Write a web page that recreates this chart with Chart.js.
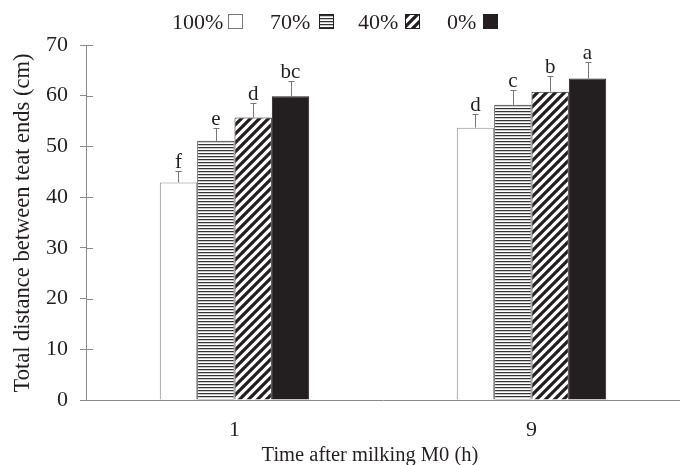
<!DOCTYPE html>
<html><head><meta charset="utf-8">
<script src="https://cdn.jsdelivr.net/npm/chart.js@4/dist/chart.umd.min.js"></script>
<style>html,body{margin:0;padding:0;background:#fff;}#wrap{width:680px;height:465px;}</style>
</head><body><div id="wrap"><canvas id="c" width="680" height="465"></canvas></div>
<script>
const categories = ['1', '9'];
const seriesNames = ['100%', '70%', '40%', '0%'];
const values100 = [42.9, 53.7];
const values70 = [51.1, 58.2];
const values40 = [55.7, 60.8];
const values0 = [59.9, 63.4];
const err100 = [2.3, 2.7];
const err70 = [2.5, 2.9];
const err40 = [2.8, 3.0];
const err0 = [3.0, 3.2];
const letters100 = ['f', 'd'];
const letters70 = ['e', 'c'];
const letters40 = ['d', 'b'];
const letters0 = ['bc', 'a'];
const yTicks = [0, 10, 20, 30, 40, 50, 60, 70];
const yTitle = 'Total distance between teat ends (cm)';
const xTitle = 'Time after milking M0 (h)';

const SERIF = "'Liberation Serif', 'Times New Roman', serif";
const INK = '#231f20';
const AXIS = '#8a8a8a';

function hPattern(ctx) {
  const c = document.createElement('canvas'); c.width = 4; c.height = 3;
  const g = c.getContext('2d');
  g.fillStyle = '#fff'; g.fillRect(0, 0, 4, 3);
  g.fillStyle = '#333'; g.fillRect(0, 0, 4, 1);
  g.fillStyle = '#9a9a9a'; g.fillRect(0, 1, 4, 0.5);
  return ctx.createPattern(c, 'repeat');
}
function dPattern(ctx) {
  const s = 9;
  const c = document.createElement('canvas'); c.width = s; c.height = s;
  const g = c.getContext('2d');
  g.fillStyle = '#fff'; g.fillRect(0, 0, s, s);
  g.strokeStyle = INK; g.lineWidth = 3.2;
  g.beginPath();
  for (let k = -1; k <= 1; k++) {
    g.moveTo(k * s - 1, s + 1); g.lineTo(k * s + s + 1, -1);
  }
  g.stroke();
  return ctx.createPattern(c, 'repeat');
}

const canvas = document.getElementById('c');
const ctx0 = canvas.getContext('2d');
const fills = ['#ffffff', hPattern(ctx0), dPattern(ctx0), INK];
const borders = ['#8a8a8a', '#555', INK, INK];
const valueSets = [values100, values70, values40, values0];
const errSets = [err100, err70, err40, err0];
const letterSets = [letters100, letters70, letters40, letters0];

const decor = {
  id: 'decor',
  afterDatasetsDraw(chart) {
    const ctx = chart.ctx;
    const y = chart.scales.y;
    const area = chart.chartArea;
    ctx.save();
    ctx.strokeStyle = AXIS; ctx.lineWidth = 1;
    yTicks.forEach(v => {
      const py = Math.round(y.getPixelForValue(v)) + 0.5;
      ctx.beginPath(); ctx.moveTo(area.left, py); ctx.lineTo(area.left + 7, py); ctx.stroke();
    });
    ctx.font = '21px ' + SERIF; ctx.fillStyle = INK; ctx.textAlign = 'center'; ctx.textBaseline = 'alphabetic';
    valueSets.forEach((vals, di) => {
      const meta = chart.getDatasetMeta(di);
      meta.data.forEach((bar, i) => {
        const x = Math.round(bar.x) + 0.5;
        const top = y.getPixelForValue(vals[i]);
        const et = Math.round(y.getPixelForValue(vals[i] + errSets[di][i])) + 0.5;
        ctx.strokeStyle = '#777';
        ctx.beginPath(); ctx.moveTo(x, top); ctx.lineTo(x, et);
        ctx.moveTo(x - 3, et); ctx.lineTo(x + 3, et); ctx.stroke();
        ctx.fillText(letterSets[di][i], bar.x, et - 4);
      });
    });
    ctx.font = '20.5px ' + SERIF;
    ctx.fillText(xTitle, 370, 461);
    ctx.save();
    ctx.font = '22.5px ' + SERIF;
    ctx.translate(29, 223); ctx.rotate(-Math.PI / 2);
    ctx.fillText(yTitle, 0, 0);
    ctx.restore();
    const legendText = [172, 270, 358, 447];
    const legendBox = [228, 319, 405, 483];
    ctx.font = '22px ' + SERIF; ctx.textAlign = 'left';
    seriesNames.forEach((n, i) => {
      ctx.fillStyle = INK;
      ctx.fillText(n, legendText[i], 29);
      ctx.fillStyle = fills[i];
      ctx.fillRect(legendBox[i], 14, 15, 15);
      ctx.strokeStyle = i === 0 ? '#777' : INK; ctx.lineWidth = 1;
      ctx.strokeRect(legendBox[i] + 0.5, 14.5, 14, 14);
    });
    ctx.restore();
  }
};

new Chart(canvas, {
  type: 'bar',
  data: {
    labels: categories,
    datasets: seriesNames.map((n, i) => ({
      label: n,
      data: valueSets[i],
      backgroundColor: fills[i],
      borderColor: borders[i],
      borderWidth: 1,
      borderSkipped: 'bottom',
      barPercentage: 1.0,
      categoryPercentage: 0.503
    }))
  },
  options: {
    responsive: false,
    animation: false,
    devicePixelRatio: 1,
    layout: { padding: { top: 45, right: -5, left: 0, bottom: 0 } },
    plugins: { legend: { display: false }, tooltip: { enabled: false } },
    scales: {
      x: {
        grid: { display: false },
        border: { color: AXIS, width: 1 },
        ticks: { font: { family: SERIF, size: 22 }, color: INK, padding: 9 },
        afterFit(s) { s.height = 65; }
      },
      y: {
        min: 0, max: 70,
        afterBuildTicks(s) { s.ticks = yTicks.map(v => ({ value: v })); },
        grid: { display: true, drawOnChartArea: false, drawTicks: true, tickLength: 6, color: AXIS },
        border: { color: AXIS, width: 1 },
        ticks: { font: { family: SERIF, size: 22 }, color: INK, padding: 12 },
        afterFit(s) { s.width = 86; }
      }
    }
  },
  plugins: [decor]
});
</script>
</body></html>
